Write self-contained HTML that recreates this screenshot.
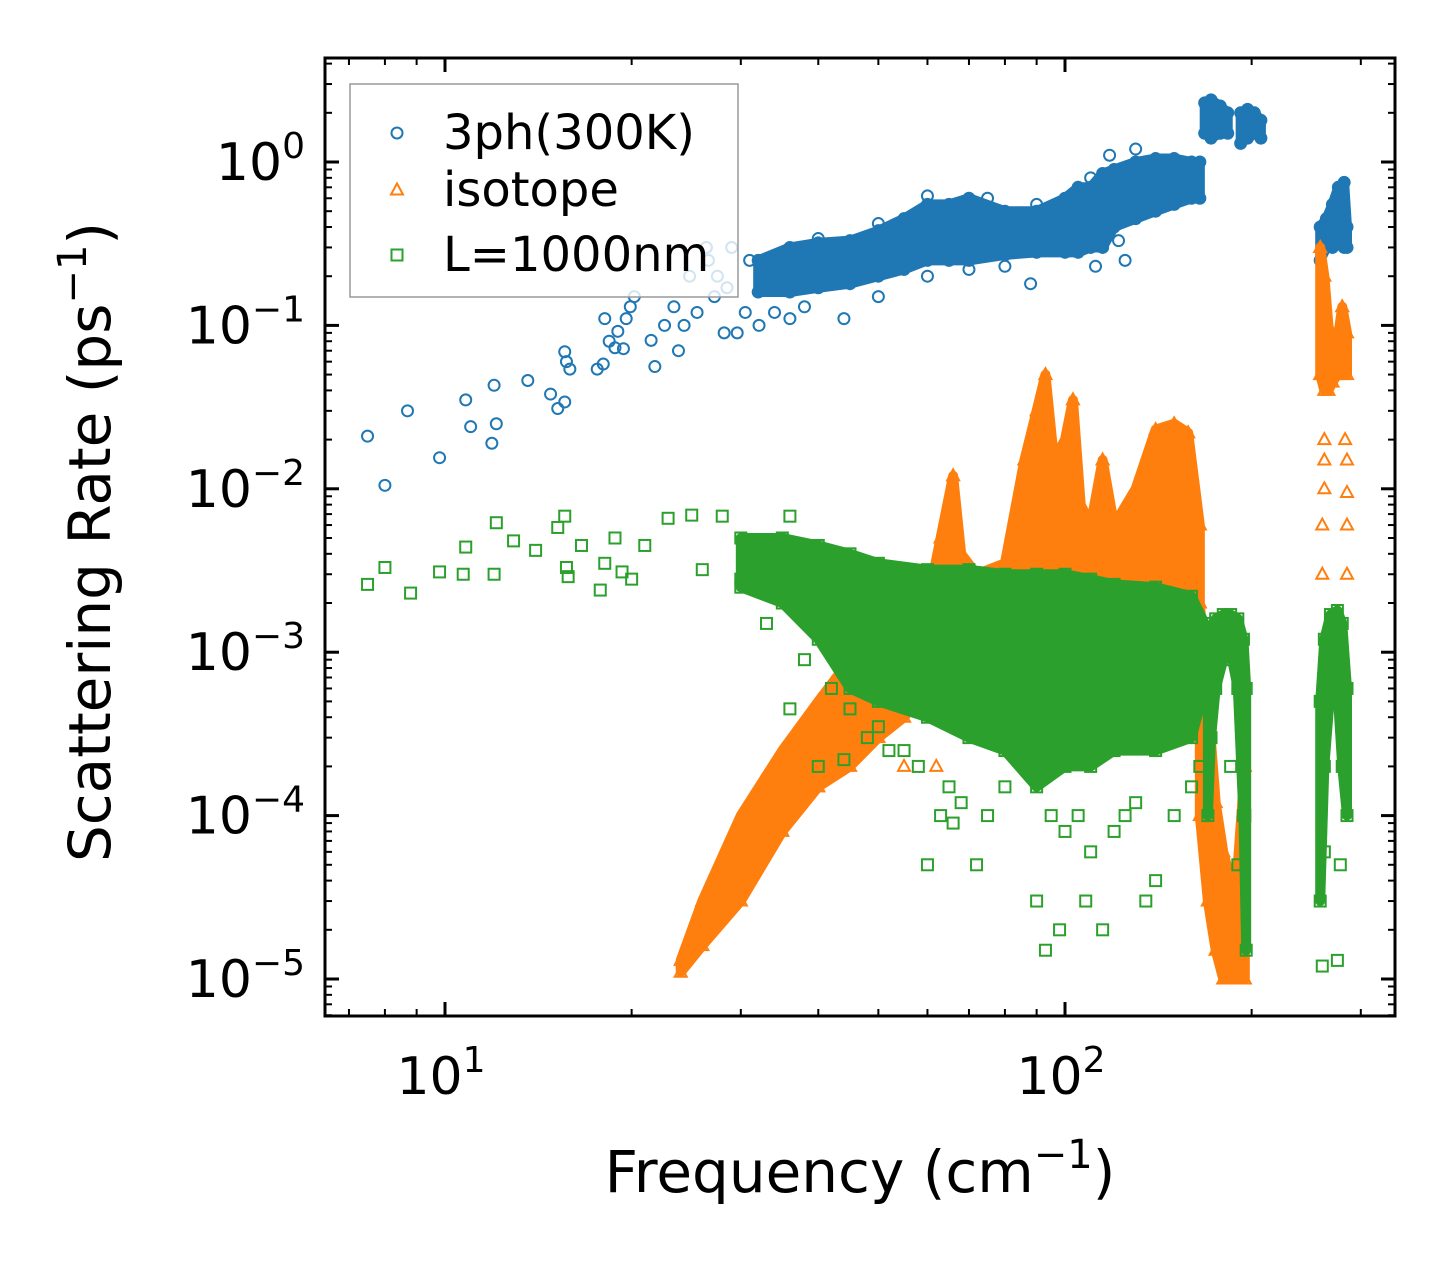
<!DOCTYPE html>
<html><head><meta charset="utf-8"><style>
body{margin:0;background:#fff}
svg{display:block}
text{font-family:"DejaVu Sans","Liberation Sans",sans-serif;fill:#000}
</style></head><body>
<svg id="chart" width="1455" height="1265" viewBox="0 0 1455 1265" xmlns="http://www.w3.org/2000/svg">
<rect width="1455" height="1265" fill="#fff"/>
<g id="marks"></g>
<g id="axes"></g>
</svg>
<script>
// ---- data (frequency cm^-1, rate ps^-1) ----
const blueF=[7.5,8,8.7,9.8,10.8,11,11.9,12,12.1,13.6,14.8,15.2,15.6,15.6,15.7,15.9,17.6,18.0,18.1,18.4,18.8,19.0,19.4,19.6,19.9,20.2,21.5,21.8,22.6,23.4,23.8,24.3,24.8,25.5,26.4,26.6,27.2,28.2,29.0,29.6,30.5,32.1,34,36,44,70,88,122,27.5,28.5,31,40,50,60,75,90,110,118,130,125,112,80,60,50,38];
const blueV=[0.021,0.0105,0.03,0.0155,0.035,0.024,0.019,0.043,0.025,0.046,0.038,0.031,0.034,0.069,0.06,0.054,0.054,0.058,0.11,0.08,0.073,0.092,0.072,0.11,0.13,0.15,0.081,0.056,0.1,0.13,0.07,0.1,0.2,0.12,0.3,0.25,0.15,0.09,0.3,0.09,0.12,0.1,0.12,0.11,0.11,0.22,0.18,0.33,0.2,0.17,0.25,0.34,0.42,0.62,0.6,0.55,0.8,1.1,1.2,0.25,0.23,0.23,0.2,0.15,0.13];
const greenF=[7.5,8,8.8,9.8,10.7,10.8,12,12.1,12.9,14,15.2,15.6,15.7,15.8,16.6,17.8,18.1,18.8,19.3,20,21,22.9,25,28,36,36,40,44,52,60,63,66,72,90,93,98,108,115,120,135,140,260,262,275,278,26,30,33,33,38,42,45,48,50,55,58,65,68,75,80,95,100,105,110,125,130,150,160,165,185,190,195];
const greenV=[0.0026,0.0033,0.0023,0.0031,0.003,0.0044,0.003,0.0062,0.0048,0.0042,0.0058,0.0068,0.0033,0.0029,0.0045,0.0024,0.0035,0.005,0.0031,0.0028,0.0045,0.0066,0.0069,0.0068,0.0068,0.00045,0.0002,0.00022,0.00025,0.00005,0.0001,0.00009,0.00005,0.00003,0.000015,0.00002,0.00003,0.00002,0.00008,0.00003,0.00004,0.000012,0.00006,0.000013,0.00005,0.0032,0.0028,0.0025,0.0015,0.0009,0.0006,0.00045,0.0003,0.00035,0.00025,0.0002,0.00015,0.00012,0.0001,0.00015,0.0001,0.00008,0.0001,0.00006,0.0001,0.00012,0.0001,0.00015,0.0002,0.0002,0.00005,0.0001];
const orangeF=[260,262,262,285,285,283,48,55,62,260,262,285,285];
const orangeV=[0.003,0.02,0.01,0.003,0.0095,0.02,0.0003,0.0002,0.0002,0.006,0.015,0.015,0.006];
// dense-band envelopes
const blueBands=[
 {f:[32,36,40,45,50,55,60,65,70,80,90,100,105,110,115,120,130,140,150,160,165],
  lo:[0.16,0.16,0.17,0.18,0.2,0.22,0.25,0.25,0.25,0.27,0.28,0.28,0.28,0.3,0.3,0.4,0.45,0.5,0.55,0.6,0.6],
  hi:[0.25,0.3,0.32,0.33,0.38,0.45,0.55,0.55,0.6,0.5,0.5,0.6,0.7,0.7,0.85,0.9,1.0,1.05,1.05,1.0,1.0]},
 {f:[168,172,178,183],lo:[1.5,1.4,1.5,1.5],hi:[2.3,2.4,2.2,2.0]},
 {f:[192,197,202,207],lo:[1.3,1.4,1.5,1.4],hi:[2.0,2.1,2.0,1.8]},
 {f:[258,264,270,276,282,285],lo:[0.25,0.3,0.3,0.32,0.3,0.3],hi:[0.4,0.45,0.55,0.7,0.75,0.4]}];
const orangeBands=[
 {f:[24,26,30,35,40,45,50,55,60],lo:[1.1e-5,1.6e-5,3e-5,8e-5,1.5e-4,2e-4,3e-4,4e-4,6e-4],hi:[1.3e-5,3e-5,1e-4,2.5e-4,5e-4,9e-4,1.2e-3,1.5e-3,2e-3]},
 {f:[60,63,66,68,72,80,86,90,93,96,100,103,106,110,115,120,130,140,150,158,165],
  lo:[1e-3,1e-3,1e-3,1e-3,1e-3,1e-3,1e-3,1e-3,1e-3,1e-3,1e-3,1e-3,1e-3,1e-3,1e-3,1e-3,1e-3,1e-3,1e-3,1e-3,1e-3],
  hi:[2e-3,5e-3,1.2e-2,4e-3,3e-3,3.5e-3,1.5e-2,3e-2,5e-2,1.5e-2,2e-2,3.5e-2,8e-3,6e-3,1.5e-2,6e-3,1e-2,2.3e-2,2.5e-2,2.2e-2,6e-3]},
 {f:[165,170,175,180,185,190,195],lo:[1e-4,3e-5,1.5e-5,1e-5,1e-5,1e-5,1e-5],hi:[2e-3,5e-4,1.2e-4,6e-5,4e-5,5e-5,2e-4]},
 {f:[258,262,266,270,275,280,285],lo:[0.05,0.04,0.04,0.045,0.05,0.06,0.05],hi:[0.3,0.2,0.1,0.06,0.08,0.13,0.09]}];
const greenBands=[
 {f:[30,35,40,45,50,60,70,80,90,100,110,120,140,160,168],
  lo:[2.5e-3,2e-3,1.2e-3,6e-4,5e-4,4e-4,3e-4,2.5e-4,1.5e-4,2e-4,2e-4,2.5e-4,2.5e-4,3e-4,6e-4],
  hi:[5e-3,5e-3,4.5e-3,4e-3,3.5e-3,3.2e-3,3.2e-3,3e-3,3e-3,3e-3,2.8e-3,2.6e-3,2.5e-3,2.2e-3,1.5e-3]},
 {f:[170,172,175,180,185,190,194,196],lo:[1e-4,3e-4,6e-4,9e-4,1e-3,6e-4,1e-4,1.5e-5],hi:[1e-3,1.4e-3,1.6e-3,1.7e-3,1.7e-3,1.6e-3,1.2e-3,6e-4]},
 {f:[258,262,268,275,280,285],lo:[3e-5,2e-4,6e-4,6e-4,2e-4,1e-4],hi:[5e-4,1.2e-3,1.7e-3,1.8e-3,1.5e-3,6e-4]}];
const yTickExp=[0,-1,-2,-3,-4,-5];
const xTickExp=[1,2];

const NS='http://www.w3.org/2000/svg';
const X=f=>445+620*Math.log10(f/10);
const Y=v=>162-163.4*Math.log10(v);
const L=325,R=1395,T=58,B=1016;
const C={blue:'#1f77b4',orange:'#ff7f0e',green:'#2ca02c'};
function mk(tag,attrs,parent){const e=document.createElementNS(NS,tag);for(const k in attrs)e.setAttribute(k,attrs[k]);parent.appendChild(e);return e;}
const marks=document.getElementById('marks');
const axes=document.getElementById('axes');
function marker(kind,x,y,col,parent){
  let e;
  if(kind==='o') e=mk('circle',{cx:x,cy:y,r:5.5,fill:'none',stroke:col,'stroke-width':2},parent);
  else if(kind==='^') e=mk('polygon',{points:`${x},${y-6.5} ${x-6},${y+4.5} ${x+6},${y+4.5}`,fill:'none',stroke:col,'stroke-width':2},parent);
  else e=mk('rect',{x:x-5.5,y:y-5.5,width:11,height:11,fill:'none',stroke:col,'stroke-width':2},parent);
  return e;
}
function drawSeries(name,bands,fs,vs,kind,col){
  const g=mk('g',{},marks);
  
  
  bands.forEach(b=>{
    const pts=b.f.map((f,i)=>X(f)+','+Y(b.hi[i])).concat(b.f.map((f,i)=>X(f)+','+Y(b.lo[i])).reverse());
    const p=mk('polygon',{points:pts.join(' '),fill:col,stroke:col,'stroke-width':10,'stroke-linejoin':'round'},g);
    
    
    b.f.forEach((f,i)=>{marker(kind,X(f),Y(b.lo[i]),col,g);marker(kind,X(f),Y(b.hi[i]),col,g);});
  });
  fs.forEach((f,i)=>{
    const m=marker(kind,X(f),Y(vs[i]),col,g);
    
    
  });
}
drawSeries('3ph',blueBands,blueF,blueV,'o',C.blue);
drawSeries('isotope',orangeBands,orangeF,orangeV,'^',C.orange);
drawSeries('boundary',greenBands,greenF,greenV,'s',C.green);

// frame
const fr=mk('rect',{x:L,y:T,width:R-L,height:B-T,fill:'none',stroke:'#000','stroke-width':3},axes);


// y ticks
for(let e=1;e>=-6;e--){
  for(let m=1;m<10;m++){
    const v=m*Math.pow(10,e);const y=Y(v);
    if(y<T||y>B)continue;
    const len=m===1?14:7;
    mk('line',{x1:L,x2:L+len,y1:y,y2:y,stroke:'#000','stroke-width':m===1?3:2},axes);
    mk('line',{x1:R,x2:R-len,y1:y,y2:y,stroke:'#000','stroke-width':m===1?3:2},axes);
  }
}
yTickExp.forEach(e=>{
  const t=mk('text',{x:L-20,y:Y(Math.pow(10,e))+18,'font-size':52,'text-anchor':'end'},axes);
  
  
  t.appendChild(document.createTextNode('10'));
  const s=mk('tspan',{dy:-22,'font-size':36},t);s.textContent=e===0?'0':'\u2212'+(-e);
});
// x ticks
for(let e=0;e<=3;e++){
  for(let m=1;m<10;m++){
    const f=m*Math.pow(10,e);const x=X(f);
    if(x<L||x>R)continue;
    const len=m===1?14:7;
    mk('line',{x1:x,x2:x,y1:B,y2:B-len,stroke:'#000','stroke-width':m===1?3:2},axes);
    mk('line',{x1:x,x2:x,y1:T,y2:T+len,stroke:'#000','stroke-width':m===1?3:2},axes);
  }
}
xTickExp.forEach(e=>{
  const t=mk('text',{x:X(Math.pow(10,e))-4,y:1094,'font-size':52,'text-anchor':'middle'},axes);
  
  
  t.appendChild(document.createTextNode('10'));
  const s=mk('tspan',{dy:-22,'font-size':36},t);s.textContent=String(e);
});
// axis titles
const xt=mk('text',{x:860,y:1192,'font-size':58,'text-anchor':'middle'},axes);


xt.innerHTML='Frequency (cm<tspan dy="-24" font-size="40">\u22121</tspan><tspan dy="24">)</tspan>';
const yt=mk('text',{x:0,y:0,'font-size':58,'text-anchor':'middle',transform:'translate(110,542) rotate(-90)'},axes);


yt.innerHTML='Scattering Rate (ps<tspan dy="-24" font-size="40">\u22121</tspan><tspan dy="24">)</tspan>';
// legend
const lg=mk('g',{},axes);


mk('rect',{x:350,y:84,width:388,height:213,fill:'#fff','fill-opacity':0.8,stroke:'#999','stroke-width':1.5},lg);
[['3ph(300K)','o',C.blue,133],['isotope','^',C.orange,190],['L=1000nm','s',C.green,255]].forEach(([lab,k,c,y])=>{
  const g=mk('g',{},lg);
  
  
  marker(k,397,y,c,g);
  const t=mk('text',{x:443,y:y+16,'font-size':48},g);t.textContent=lab;
});
</script>
</body></html>
